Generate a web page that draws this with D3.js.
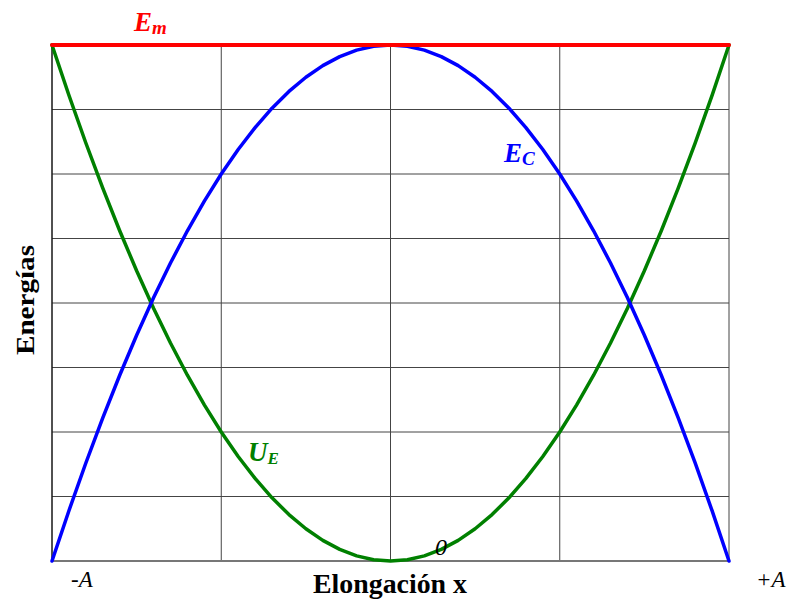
<!DOCTYPE html>
<html>
<head>
<meta charset="utf-8">
<script src="https://cdn.jsdelivr.net/npm/d3@7/dist/d3.min.js"></script>
<style>
html,body{margin:0;padding:0;background:#fff;}
svg{display:block;}
</style>
</head>
<body>
<svg id="c" width="787" height="601"></svg>
<script>
// Data (elongation in units of A, energies in units of Em)
const elong = [-1, -0.95, -0.9, -0.85, -0.8, -0.75, -0.7, -0.65, -0.6, -0.55, -0.5, -0.45, -0.4, -0.35, -0.3, -0.25, -0.2, -0.15, -0.1, -0.05, 0,
               0.05, 0.1, 0.15, 0.2, 0.25, 0.3, 0.35, 0.4, 0.45, 0.5, 0.55, 0.6, 0.65, 0.7, 0.75, 0.8, 0.85, 0.9, 0.95, 1];
const potential = [1, 0.9025, 0.81, 0.7225, 0.64, 0.5625, 0.49, 0.4225, 0.36, 0.3025, 0.25, 0.2025, 0.16, 0.1225, 0.09, 0.0625, 0.04, 0.0225, 0.01, 0.0025, 0,
                   0.0025, 0.01, 0.0225, 0.04, 0.0625, 0.09, 0.1225, 0.16, 0.2025, 0.25, 0.3025, 0.36, 0.4225, 0.49, 0.5625, 0.64, 0.7225, 0.81, 0.9025, 1];
const kinetic = [0, 0.0975, 0.19, 0.2775, 0.36, 0.4375, 0.51, 0.5775, 0.64, 0.6975, 0.75, 0.7975, 0.84, 0.8775, 0.91, 0.9375, 0.96, 0.9775, 0.99, 0.9975, 1,
                 0.9975, 0.99, 0.9775, 0.96, 0.9375, 0.91, 0.8775, 0.84, 0.7975, 0.75, 0.6975, 0.64, 0.5775, 0.51, 0.4375, 0.36, 0.2775, 0.19, 0.0975, 0];
const mechanical = [1, 1];
const mechX = [-1, 1];
const xGrid = [-1, -0.5, 0, 0.5, 1];
const yGrid = [0, 0.125, 0.25, 0.375, 0.5, 0.625, 0.75, 0.875, 1];

const FONT = "Liberation Serif";
const svg = d3.select("#c");
const x = d3.scaleLinear().domain([-1, 1]).range([52, 729]);
const y = d3.scaleLinear().domain([0, 1]).range([561, 45]);

const g = svg.append("g");
g.selectAll("line.v").data(xGrid).enter().append("line")
  .attr("x1", d => x(d)).attr("x2", d => x(d))
  .attr("y1", y(0)).attr("y2", y(1))
  .attr("stroke", "#444").attr("stroke-width", 1);
g.selectAll("line.h").data(yGrid).enter().append("line")
  .attr("x1", x(-1)).attr("x2", x(1))
  .attr("y1", d => y(d)).attr("y2", d => y(d))
  .attr("stroke", "#444").attr("stroke-width", 1);
g.append("line").attr("x1", x(-1)).attr("x2", x(1)).attr("y1", y(0)).attr("y2", y(0))
  .attr("stroke", "#777").attr("stroke-width", 2);
g.append("line").attr("x1", x(-1)).attr("x2", x(-1)).attr("y1", y(0)).attr("y2", y(1))
  .attr("stroke", "#000").attr("stroke-width", 1);

const line = d3.line().x(d => x(d[0])).y(d => y(d[1]));

svg.append("path").datum(elong.map((e, i) => [e, potential[i]]))
  .attr("d", line).attr("fill", "none").attr("stroke", "#008000").attr("stroke-width", 3.5)
  .attr("stroke-linejoin", "round").attr("stroke-linecap", "round");
svg.append("path").datum(elong.map((e, i) => [e, kinetic[i]]))
  .attr("d", line).attr("fill", "none").attr("stroke", "#0000ff").attr("stroke-width", 3.5)
  .attr("stroke-linejoin", "round").attr("stroke-linecap", "round");
svg.append("path").datum(mechX.map((e, i) => [e, mechanical[i]]))
  .attr("d", line).attr("fill", "none").attr("stroke", "#ff0000").attr("stroke-width", 4)
  .attr("stroke-linecap", "round");

function sublabel(xp, yp, main, sub, color, subSize) {
  const t = svg.append("text").attr("x", xp).attr("y", yp)
    .attr("font-family", FONT)
    .attr("fill", color).attr("font-weight", "bold").attr("font-style", "italic")
    .attr("font-size", 27);
  t.append("tspan").text(main);
  t.append("tspan").attr("font-size", subSize).attr("dy", 3).text(sub);
}
sublabel(134, 31, "E", "m", "#ff0000", 19);
sublabel(504, 162, "E", "C", "#0000ff", 19);
sublabel(248, 461, "U", "E", "#008000", 17);

svg.append("text").attr("x", 435).attr("y", 555).attr("font-family", FONT).attr("font-style", "italic")
  .attr("font-size", 24).attr("fill", "#000").text("0");
svg.append("text").attr("x", 71).attr("y", 587).attr("font-family", FONT).attr("font-style", "italic")
  .attr("font-size", 23).attr("fill", "#000").text("-A");
svg.append("text").attr("x", 756).attr("y", 587).attr("font-family", FONT).attr("font-style", "italic")
  .attr("font-size", 23).attr("fill", "#000").text("+A");

svg.append("text").attr("x", 313).attr("y", 593).attr("font-family", FONT)
  .attr("font-weight", "bold").attr("font-size", 27).attr("fill", "#000")
  .attr("textLength", 154).attr("lengthAdjust", "spacingAndGlyphs").text("Elongación x");
svg.append("text").attr("transform", "translate(34,355) rotate(-90)")
  .attr("font-family", FONT).attr("font-weight", "bold").attr("font-size", 26).attr("fill", "#000")
  .attr("textLength", 110).attr("lengthAdjust", "spacingAndGlyphs").text("Energías");
</script>
</body>
</html>
